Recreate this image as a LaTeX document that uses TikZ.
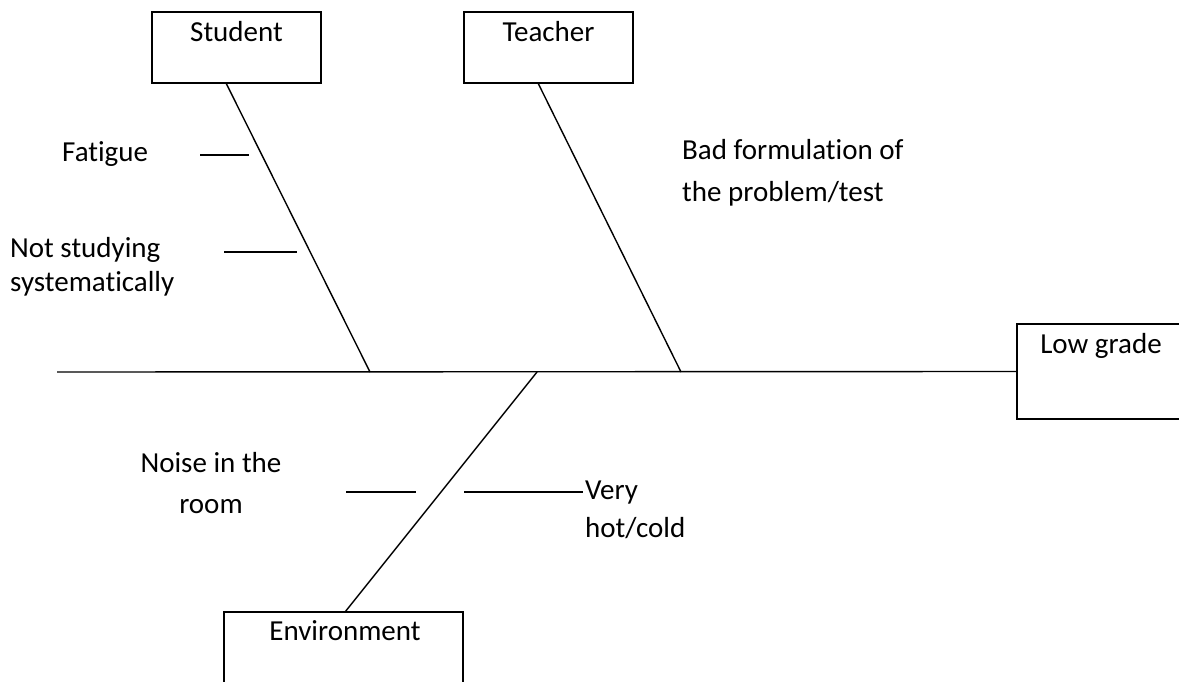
\documentclass[tikz,border=0pt]{standalone}
\usepackage{fontspec}
\setmainfont{Carlito}[Ligatures=NoCommon]
\begin{document}
\begin{tikzpicture}[x=1pt,y=-1pt,
  box/.style={draw, line width=2pt, rectangle, inner sep=0pt},
  bone/.style={line width=1.4pt},
  lbl/.style={inner sep=0pt, font=\fontsize{29}{42}\selectfont},
]
\useasboundingbox (0,0) rectangle (1179,682);

% category boxes and the effect box
\node[box, minimum width=169pt, minimum height=71pt] (student) at (236.5,47.5) {};
\node[box, minimum width=169pt, minimum height=71pt] (teacher) at (548.5,47.5) {};
\node[box, minimum width=183pt, minimum height=95pt] (lowgrade) at (1108.5,371.5) {};
\node[box, minimum width=239pt, minimum height=108pt] (environment) at (343.5,666) {};

\node[lbl, anchor=base] (studenttxt) at (236.5,42) {Student};
\node[lbl, anchor=base] (teachertxt) at (548.5,42) {Teacher};
\node[lbl, anchor=base] (lowgradetxt) at (1101,353) {Low grade};
\node[lbl, anchor=base] (environmenttxt) at (345,640) {Environment};

% spine
\coordinate (tail) at (57,372);
\draw[bone] (tail) -- (lowgrade.west);

% main bones
\coordinate (studentfoot) at (226,83);
\coordinate (studentjoin) at (370,372);
\coordinate (teacherfoot) at (538,83);
\coordinate (teacherjoin) at (681,372);
\coordinate (envtop) at (345,612);
\coordinate (envjoin) at (537,372);
\draw[bone] (studentfoot) -- (studentjoin);
\draw[bone] (teacherfoot) -- (teacherjoin);
\draw[bone] (envtop) -- (envjoin);

% cause ticks
\coordinate (fatA) at (200,155);
\coordinate (fatB) at (249,155);
\coordinate (nsA) at (224,252);
\coordinate (nsB) at (297,252);
\coordinate (noiseA) at (346,492);
\coordinate (noiseB) at (416,492);
\coordinate (hotA) at (464,492);
\coordinate (hotB) at (583,492);
\draw[bone] (fatA) -- (fatB);
\draw[bone] (nsA) -- (nsB);
\draw[bone] (noiseA) -- (noiseB);
\draw[bone] (hotA) -- (hotB);

% cause labels (base anchor sits on the last line)
\node[lbl, anchor=base west] (fatigue) at (62,162) {Fatigue};
\node[lbl, anchor=base west, align=left, font=\fontsize{29}{34}\selectfont] (notstudying) at (10,291) {Not studying\\systematically};
\node[lbl, anchor=base west, align=left, font=\fontsize{29}{43}\selectfont] (badform) at (682,202) {Bad formulation of\\the problem/test};
\node[lbl, anchor=base, align=center, font=\fontsize{29}{41}\selectfont] (noise) at (211,513) {Noise in the\\room};
\node[lbl, anchor=base west, align=left, font=\fontsize{29}{38}\selectfont] (hotcold) at (585,537) {Very\\hot/cold};
\end{tikzpicture}
\end{document}
